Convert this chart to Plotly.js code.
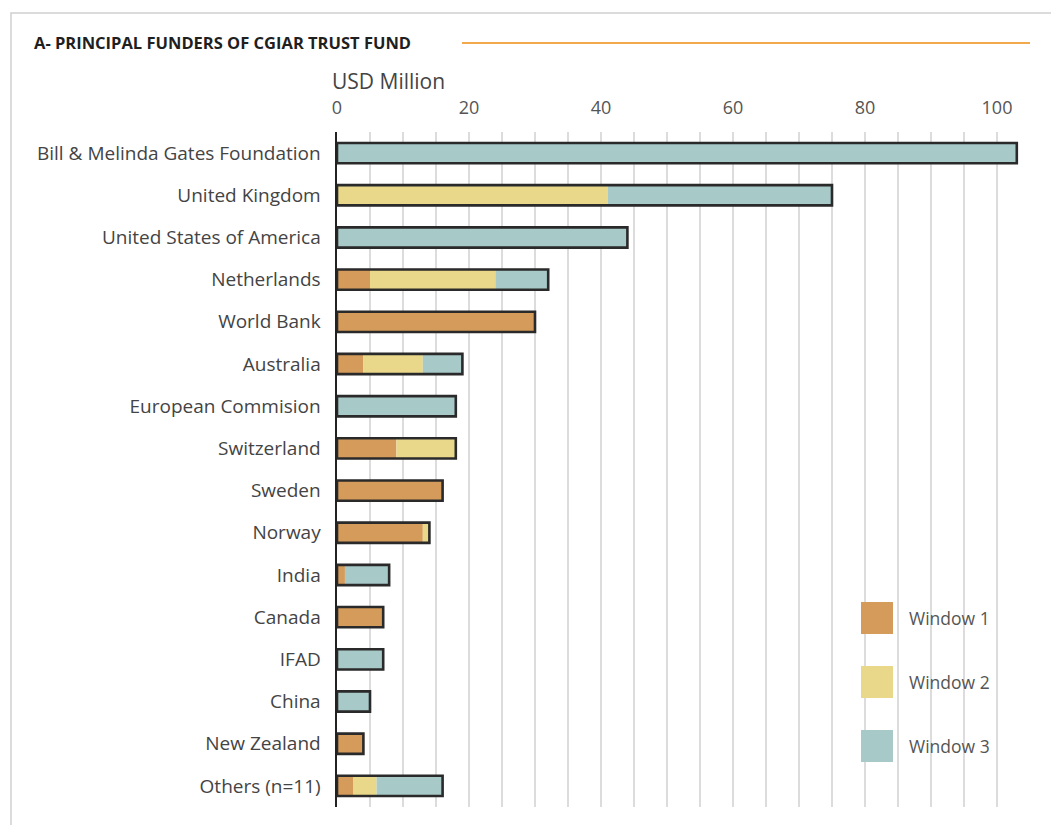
<!DOCTYPE html>
<html>
<head>
<meta charset="utf-8">
<script src="https://cdn.plot.ly/plotly-3.0.1.min.js"></script>
<style>html,body{margin:0;padding:0;background:#fff;}#chart{width:1051px;height:825px;}</style>
</head>
<body>
<div id="chart"></div>
<script>
// ---- Data (USD Million) ----
const funders = ["Bill & Melinda Gates Foundation","United Kingdom","United States of America","Netherlands","World Bank","Australia","European Commision","Switzerland","Sweden","Norway","India","Canada","IFAD","China","New Zealand","Others (n=11)"];
const window1 = [0, 0, 0, 5, 30, 4, 0, 9, 16, 13, 1.2, 7, 0, 0, 4, 2.5];
const window2 = [0, 41, 0, 19, 0, 9, 0, 9, 0, 1, 0, 0, 0, 0, 0, 3.5];
const window3 = [103, 34, 44, 8, 0, 6, 18, 0, 0, 0, 6.7, 0, 7, 5, 0, 10];
const seriesNames = ["Window 1","Window 2","Window 3"];
const xTicks = [0, 20, 40, 60, 80, 100];

// ---- Styles ----
const colors = ["#D49B5A", "#E9D88A", "#A7C9C7"];
const outline = "#2a2a2a";
const W = 1051, H = 825;
const mL = 337, mR = 21, mT = 132, mB = 18;
const pw = W - mL - mR, ph = H - mT - mB;
const px = x => (x - mL) / pw;
const py = y => (H - mB - y) / ph;

const base2 = window1.map((v, i) => v);
const base3 = window1.map((v, i) => v + window2[i]);
const totals = window1.map((v, i) => v + window2[i] + window3[i]);

const seg = (vals, base, i) => ({
  type: 'bar', orientation: 'h', y: funders, x: vals, base: base,
  name: seriesNames[i], marker: {color: colors[i], line: {width: 0}},
  showlegend: false, hoverinfo: 'x+name'
});
const traces = [
  seg(window1, funders.map(() => 0), 0),
  seg(window2, base2, 1),
  seg(window3, base3, 2),
  {type: 'bar', orientation: 'h', y: funders, x: totals, base: funders.map(() => 0),
   marker: {color: 'rgba(0,0,0,0)', line: {color: outline, width: 2.6}},
   showlegend: false, hoverinfo: 'x', name: 'Total'}
];

const shapes = [
  // card border
  {type: 'rect', xref: 'paper', yref: 'paper', x0: px(11), x1: px(1065), y0: py(13), y1: py(840),
   line: {color: '#cfcfcf', width: 1.5}, fillcolor: 'rgba(0,0,0,0)', layer: 'below'},
  // orange title rule
  {type: 'line', xref: 'paper', yref: 'paper', x0: px(462), x1: px(1030), y0: py(43), y1: py(43),
   line: {color: '#F2A94E', width: 2.2}},
  // legend background
  {type: 'rect', xref: 'paper', yref: 'paper', x0: px(836), x1: px(1027), y0: py(582), y1: py(781),
   line: {width: 0}, fillcolor: '#ffffff', layer: 'between'}
];
const annotations = [
  {xref: 'paper', yref: 'paper', x: px(32), y: py(43), xanchor: 'left', yanchor: 'middle', showarrow: false,
   text: '<b>A- PRINCIPAL FUNDERS OF CGIAR TRUST FUND</b>', font: {family: 'Open Sans', size: 16.5, color: '#1f1f1f'}},
  {xref: 'paper', yref: 'paper', x: px(330), y: py(81), xanchor: 'left', yanchor: 'middle', showarrow: false,
   text: 'USD Million', font: {family: 'Open Sans', size: 21, color: '#444'}}
];
const legY = [618, 682, 746];
seriesNames.forEach((n, i) => {
  shapes.push({type: 'rect', xref: 'paper', yref: 'paper', x0: px(861), x1: px(893), y0: py(legY[i] - 16), y1: py(legY[i] + 16),
    line: {width: 0}, fillcolor: colors[i], layer: 'above'});
  annotations.push({xref: 'paper', yref: 'paper', x: px(907), y: py(legY[i]), xanchor: 'left', yanchor: 'middle',
    showarrow: false, text: n, font: {family: 'Open Sans', size: 17.5, color: '#555'}});
});

const layout = {
  width: W, height: H,
  margin: {l: mL, r: mR, t: mT, b: mB, pad: 0},
  paper_bgcolor: '#fff', plot_bgcolor: '#fff',
  barmode: 'overlay', bargap: 0.52,
  showlegend: false,
  font: {family: 'Open Sans', color: '#444'},
  xaxis: {
    side: 'top', range: [0, 105], tickvals: xTicks, ticktext: xTicks.map(String),
    showgrid: true, gridcolor: '#dcdcdc', gridwidth: 1.5, zeroline: false, showline: false,
    ticks: 'outside', ticklen: 10, tickcolor: 'rgba(0,0,0,0)',
    tickfont: {family: 'Open Sans', size: 18, color: '#555'},
    minor: {dtick: 5, tick0: 0, showgrid: true, gridcolor: '#dcdcdc', gridwidth: 1.5, ticks: ''},
    fixedrange: true
  },
  yaxis: {
    type: 'category', autorange: 'reversed', showgrid: false, zeroline: false,
    showline: true, linecolor: '#222', linewidth: 2.5,
    ticks: 'outside', ticklen: 10, tickcolor: 'rgba(0,0,0,0)',
    tickfont: {family: 'Open Sans', size: 19, color: '#444'},
    fixedrange: true
  },
  shapes: shapes,
  annotations: annotations
};
Plotly.newPlot('chart', traces, layout, {staticPlot: true, displayModeBar: false});
</script>
</body>
</html>
